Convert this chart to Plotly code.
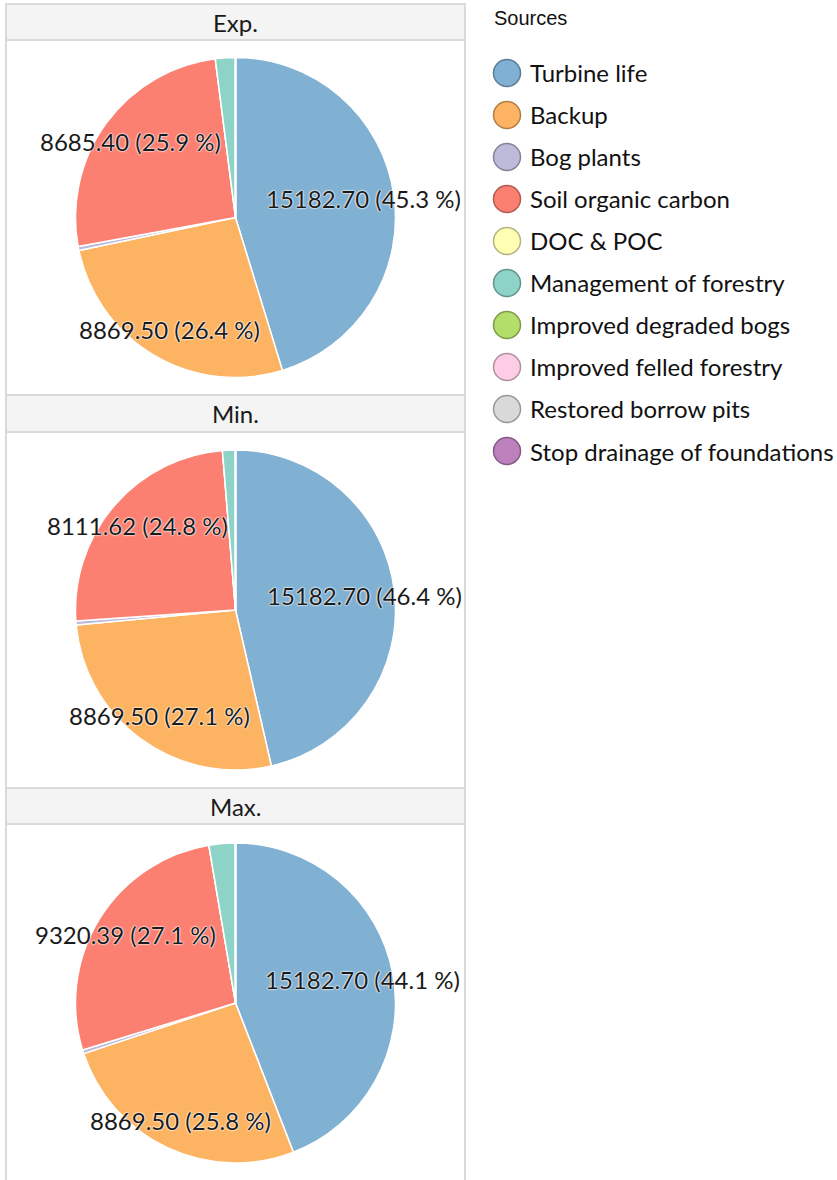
import math
import plotly.graph_objects as go

# ---- data -------------------------------------------------------------
sources = [
    "Turbine life", "Backup", "Bog plants", "Soil organic carbon", "DOC & POC",
    "Management of forestry", "Improved degraded bogs", "Improved felled forestry",
    "Restored borrow pits", "Stop drainage of foundations",
]
scenarios = ["Exp.", "Min.", "Max."]
exp_values = [15182.70, 8869.50, 130.0, 8685.40, 0.0, 677.0, 0.0, 0.0, 0.0, 0.0]
min_values = [15182.70, 8869.50, 130.0, 8111.62, 0.0, 426.0, 0.0, 0.0, 0.0, 0.0]
max_values = [15182.70, 8869.50, 130.0, 9320.39, 0.0, 917.0, 0.0, 0.0, 0.0, 0.0]
scenario_values = [exp_values, min_values, max_values]

fills = ["#80B1D3", "#FDB462", "#BEBADA", "#FB8072", "#FFFFB3",
         "#8DD3C7", "#B3DE69", "#FCCDE5", "#D9D9D9", "#BC80BD"]
edges = ["#5A7C94", "#B17E45", "#858299", "#B05A50", "#B3B37D",
         "#63948B", "#7D9B4A", "#B090A0", "#989898", "#845A84"]

# ---- layout geometry (pixels) -----------------------------------------
W, H = 837, 1180
PX0, PX1 = 6, 465                      # facet panel left/right
strips = [(4, 40), (395, 432), (788, 824)]
body_bottom = [395, 788, 1182]
R = 160
LABEL_R = 0.81 * R
FONT = "Lato, Carlito, 'Open Sans', sans-serif"


def px(x):
    return x / W


def py(y):
    return 1 - y / H


fig = go.Figure()
shapes = []
annotations = []

for i, (name, vals) in enumerate(zip(scenarios, scenario_values)):
    s_top, s_bot = strips[i]
    b_bot = body_bottom[i]
    # panel body and strip
    shapes.append(dict(type="rect", xref="paper", yref="paper", layer="below",
                       x0=px(PX0), x1=px(PX1), y0=py(b_bot), y1=py(s_bot),
                       fillcolor="white", line=dict(color="#DADADA", width=2)))
    shapes.append(dict(type="rect", xref="paper", yref="paper", layer="below",
                       x0=px(PX0), x1=px(PX1), y0=py(s_bot), y1=py(s_top),
                       fillcolor="#F4F4F4", line=dict(color="#DADADA", width=2)))
    annotations.append(dict(xref="paper", yref="paper", x=px((PX0 + PX1) / 2),
                            y=py((s_top + s_bot) / 2), text=name, showarrow=False,
                            xanchor="center", yanchor="middle",
                            font=dict(family=FONT, size=24, color="#1A1A1A")))

    cx = (PX0 + PX1) / 2
    cy = (s_bot + b_bot) / 2
    fig.add_trace(go.Pie(
        labels=sources, values=vals, sort=False, direction="clockwise",
        rotation=0, textinfo="none", hoverinfo="label+value+percent",
        marker=dict(colors=fills, line=dict(color="white", width=1.5)),
        domain=dict(x=[px(cx - R), px(cx + R)], y=[py(cy + R), py(cy - R)]),
        showlegend=False, name=name,
    ))

    # value labels at the middle angle of each major slice
    total = sum(vals)
    cum = 0.0
    for v in vals:
        frac = v / total
        mid = (cum + frac / 2) * 2 * math.pi
        cum += frac
        if frac < 0.05:
            continue
        lx = cx + LABEL_R * math.sin(mid)
        ly = cy - LABEL_R * math.cos(mid)
        annotations.append(dict(
            xref="paper", yref="paper", x=px(lx), y=py(ly),
            text=f"{v:.2f} ({frac * 100:.1f} %)", showarrow=False,
            xanchor="center", yanchor="middle",
            font=dict(family=FONT, size=24, color="#1A1A1A",
                      shadow="0px 0px 2px #FFFFFF, 0px 0px 2px #FFFFFF, 0px 0px 1px #FFFFFF"),
        ))

# ---- legend -----------------------------------------------------------
annotations.append(dict(xref="paper", yref="paper", x=px(492), y=py(18),
                        text="Sources", showarrow=False, xanchor="left",
                        yanchor="middle",
                        font=dict(family="Liberation Sans, Arial, sans-serif",
                                  size=20, color="#111111")))
LEG_X, LEG_Y0, LEG_DY, LEG_R = 507, 73, 42, 13.5
for k, (lab, fc, ec) in enumerate(zip(sources, fills, edges)):
    y = LEG_Y0 + k * LEG_DY
    shapes.append(dict(type="circle", xref="paper", yref="paper",
                       x0=px(LEG_X - LEG_R), x1=px(LEG_X + LEG_R),
                       y0=py(y + LEG_R), y1=py(y - LEG_R),
                       fillcolor=fc, line=dict(color=ec, width=1.5)))
    annotations.append(dict(xref="paper", yref="paper", x=px(528), y=py(y),
                            text=lab, showarrow=False, xanchor="left",
                            yanchor="middle",
                            font=dict(family=FONT, size=24, color="#111111")))

fig.update_layout(
    width=W, height=H,
    margin=dict(l=0, r=0, t=0, b=0),
    paper_bgcolor="white", plot_bgcolor="white",
    shapes=shapes, annotations=annotations,
    showlegend=False,
)

fig.write_html("out.html")
